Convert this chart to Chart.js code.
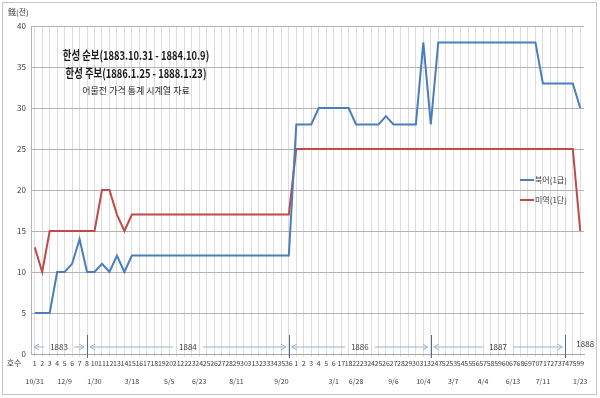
<!DOCTYPE html>
<html>
<head>
<meta charset="utf-8">
<script src="https://cdn.jsdelivr.net/npm/chart.js@4.4.1/dist/chart.umd.min.js"></script>
<style>
  html, body { margin: 0; padding: 0; background: #fff; }
</style>
</head>
<body>
<canvas id="myChart" width="600" height="398"></canvas>
<script>
// 호수 (issue numbers) - 한성순보 1~36, 한성주보 1~99
const issueLabels = ['1','2','3','4','5','6','7','8','10','11','12','13','14','15','16','17','18','19','20','21','22','23','24','25','26','27','28','29','30','31','32','33','34','35','36',
    '1','2','3','4','5','6','17','18','22','23','24','25','26','27','28','29','30','31','32','47','52','53','54','55','56','57','58','59','60','67','68','69','70','71','72','73','74','75','99'];

// 북어(1급)
const bukeo = [5, 5, 5, 10, 10, 11, 14, 10, 10, 11, 10, 12, 10, 12,
    12, 12, 12, 12, 12, 12, 12, 12, 12, 12, 12, 12, 12, 12, 12, 12, 12, 12, 12, 12, 12,
    28, 28, 28, 30, 30, 30, 30, 30, 28, 28, 28, 28, 29, 28, 28, 28, 28, 38, 28,
    38, 38, 38, 38, 38, 38, 38, 38, 38, 38, 38, 38, 38, 38,
    33, 33, 33, 33, 33, 30];

// 미역(1단)
const miyeok = [13, 10, 15, 15, 15, 15, 15, 15, 15, 20, 20, 17, 15,
    17, 17, 17, 17, 17, 17, 17, 17, 17, 17, 17, 17, 17, 17, 17, 17, 17, 17, 17, 17, 17, 17,
    25, 25, 25, 25, 25, 25, 25, 25, 25, 25, 25, 25, 25, 25, 25, 25, 25, 25, 25,
    25, 25, 25, 25, 25, 25, 25, 25, 25, 25, 25, 25, 25, 25, 25, 25, 25, 25, 25, 15];

// 발행일 (category index it sits under, and text)
const dateAt = [0, 4, 8, 13, 18, 22, 27, 33, 40, 43, 48, 52, 56, 60, 64, 68, 73];
const dateText = ['10/31', '12/9', '1/30', '3/18', '5/5', '6/23', '8/11', '9/20', '3/1', '6/28', '9/6', '10/4', '3/7', '4/4', '6/13', '7/11', '1/23'];

// 연도 구분 (separator after category index)
const yearNames = ['1883', '1884', '1886', '1887', '1888'];
const yearBreaks = [7, 34, 53, 71];

const titleLines = ['한성 순보(1883.10.31 - 1884.10.9)', '한성 주보(1886.1.25 - 1888.1.23)', '어물전 가격 통계 시계열 자료'];
const yTicks = [0, 5, 10, 15, 20, 25, 30, 35, 40];

const FONT = "'Noto Sans CJK KR', 'Noto Sans', sans-serif";

function arrow(ctx, xFrom, xTo, yy) {
    ctx.beginPath();
    ctx.moveTo(xFrom, yy);
    ctx.lineTo(xTo, yy);
    const d = xTo > xFrom ? -1 : 1;
    ctx.moveTo(xTo + d * 5, yy - 3);
    ctx.lineTo(xTo, yy);
    ctx.lineTo(xTo + d * 5, yy + 3);
    ctx.stroke();
}

// narrow text (Malgun-like width)
function squeezed(ctx, text, cx, cy, sx) {
    ctx.save();
    ctx.translate(cx, cy);
    ctx.scale(sx, 1);
    ctx.fillText(text, 0, 0);
    ctx.restore();
}

const overlay = {
    id: 'overlay',
    beforeDraw(chart) {
        const ctx = chart.ctx;
        ctx.save();
        ctx.strokeStyle = '#c4c4c4';
        ctx.lineWidth = 1;
        ctx.strokeRect(2.5, 2.5, 594, 392);
        ctx.restore();
    },
    afterDraw(chart) {
        const { ctx, chartArea: a, scales: { x, y } } = chart;
        const y0 = y.getPixelForValue(0);
        ctx.save();

        // unit label
        ctx.fillStyle = '#404040';
        ctx.font = '8px ' + FONT;
        ctx.textAlign = 'left';
        ctx.textBaseline = 'middle';
        ctx.fillText('錢(전)', a.left - 23, a.top - 14);

        // 호수
        ctx.textAlign = 'center';
        ctx.fillText('호수', a.left - 17, y0 + 9);

        // dates row
        ctx.font = '7px ' + FONT;
        dateAt.forEach((idx, i) => {
            ctx.fillText(dateText[i], x.getPixelForValue(idx), y0 + 27);
        });

        // titles
        ctx.fillStyle = '#1a1a1a';
        ctx.font = 'bold 12px ' + FONT;
        squeezed(ctx, titleLines[0], a.left + 105, a.top + 29, 0.78);
        squeezed(ctx, titleLines[1], a.left + 105, a.top + 47, 0.78);
        ctx.font = '9px ' + FONT;
        ctx.fillStyle = '#262626';
        ctx.fillText(titleLines[2], a.left + 105, a.top + 65);

        // legend
        ctx.font = '8px ' + FONT;
        ctx.textAlign = 'left';
        chart.data.datasets.forEach((ds, i) => {
            const ly = a.top + 154 + i * 20;
            const lx = a.right - 64;
            ctx.strokeStyle = ds.borderColor;
            ctx.lineWidth = 2;
            ctx.beginPath();
            ctx.moveTo(lx, ly);
            ctx.lineTo(lx + 14, ly);
            ctx.stroke();
            ctx.fillStyle = '#404040';
            ctx.fillText(ds.label, lx + 15, ly);
        });

        // year row
        const yr = y0 - 7;
        const edges = [a.left].concat(yearBreaks.map(i => x.getPixelForValue(i)), [a.right]);
        ctx.font = '8px ' + FONT;
        ctx.lineWidth = 1;
        yearNames.forEach((name, i) => {
            const x0 = edges[i], x1 = edges[i + 1];
            ctx.fillStyle = '#404040';
            if (i === yearNames.length - 1) {
                ctx.textAlign = 'left';
                ctx.fillText(name, x0 + 11, yr - 3);
                return;
            }
            const cx = (x0 + x1) / 2;
            const w = ctx.measureText(name).width;
            ctx.textAlign = 'center';
            ctx.fillText(name, cx, yr);
            ctx.strokeStyle = '#9bb3d1';
            arrow(ctx, cx - w / 2 - 6, x0 + 3, yr);
            arrow(ctx, cx + w / 2 + 6, x1 - 3, yr);
        });
        ctx.strokeStyle = '#4f6d93';
        yearBreaks.forEach(i => {
            const px = Math.round(x.getPixelForValue(i)) + 0.5;
            ctx.beginPath();
            ctx.moveTo(px, y0 - 19);
            ctx.lineTo(px, y0 + 4);
            ctx.stroke();
        });
        ctx.restore();
    }
};

const ctx = document.getElementById('myChart').getContext('2d');
new Chart(ctx, {
    type: 'line',
    data: {
        labels: issueLabels,
        datasets: [
            {
                label: '북어(1급)',
                data: bukeo,
                borderColor: '#4a7ebb',
                backgroundColor: '#4a7ebb',
                borderWidth: 2,
                tension: 0,
                pointRadius: 0
            },
            {
                label: '미역(1단)',
                data: miyeok,
                borderColor: '#be4b48',
                backgroundColor: '#be4b48',
                borderWidth: 2,
                tension: 0,
                pointRadius: 0
            }
        ]
    },
    options: {
        responsive: false,
        animation: false,
        devicePixelRatio: 1,
        layout: { padding: { left: 4, top: 26, right: 16, bottom: 0 } },
        plugins: {
            legend: { display: false },
            tooltip: { enabled: false }
        },
        scales: {
            x: {
                offset: true,
                grid: { color: '#dcdcdc', offset: false, tickLength: 3 },
                border: { color: '#a6a6a6' },
                ticks: {
                    autoSkip: false,
                    maxRotation: 0,
                    minRotation: 0,
                    padding: 2,
                    color: '#404040',
                    font: { size: 7, family: FONT }
                },
                afterFit: s => { s.height = 44; }
            },
            y: {
                min: 0,
                max: 40,
                afterBuildTicks: s => { s.ticks = yTicks.map(v => ({ value: v })); },
                grid: { color: '#b3b3b3', drawTicks: false },
                border: { color: '#b3b3b3' },
                ticks: {
                    padding: 5,
                    color: '#404040',
                    font: { size: 8, family: FONT }
                },
                afterFit: s => { s.width = 27; }
            }
        }
    },
    plugins: [overlay]
});
</script>
</body>
</html>
